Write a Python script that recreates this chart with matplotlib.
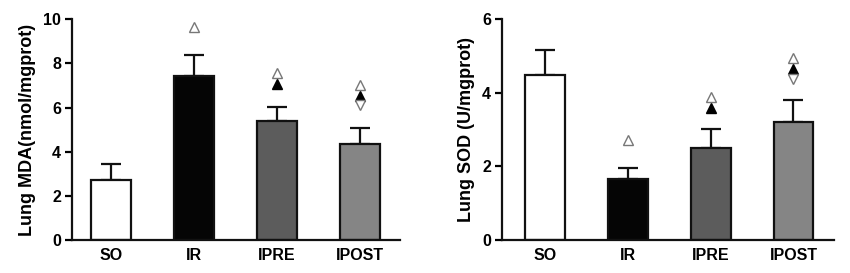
import matplotlib
matplotlib.use("Agg")
import matplotlib.pyplot as plt
import numpy as np

plt.rcParams['font.family'] = ['Liberation Sans', 'DejaVu Sans']

groups = ["SO", "IR", "IPRE", "IPOST"]
colors = ["#ffffff", "#050505", "#5c5c5c", "#858585"]

mda_mean = [2.71, 7.44, 5.41, 4.34]
mda_top = [3.43, 8.38, 6.02, 5.08]
sod_mean = [4.48, 1.66, 2.51, 3.20]
sod_top = [5.16, 1.97, 3.03, 3.80]

# significance marker heights: (group index, value, marker)
mda_marks = [(1, 9.67, "open_up"), (2, 7.56, "open_up"), (2, 7.06, "filled_up"),
             (3, 7.03, "open_up"), (3, 6.53, "filled_up"), (3, 6.10, "open_down")]
sod_marks = [(1, 2.72, "open_up"), (2, 3.88, "open_up"), (2, 3.60, "filled_up"),
             (3, 4.95, "open_up"), (3, 4.66, "filled_up"), (3, 4.39, "open_down")]

fig = plt.figure(figsize=(8.5, 2.73), dpi=100)
ax1 = fig.add_axes([0.0847, 0.121, 0.386, 0.808])
ax2 = fig.add_axes([0.5906, 0.121, 0.3906, 0.808])

def draw(ax, mean, top, marks, ylim, yticks, ylabel, xlim):
    x = np.arange(len(groups))
    err = np.array(top) - np.array(mean)
    ax.bar(x, mean, width=0.48, color=colors, edgecolor="#111111", linewidth=1.6, zorder=2)
    ax.errorbar(x, mean, yerr=[np.zeros(len(x)), err], fmt="none", ecolor="#111111",
                elinewidth=1.6, capsize=7.5, capthick=1.6, zorder=1)
    for gi, val, kind in marks:
        if kind == "open_up":
            ax.plot(gi, val, marker="^", ms=6.5, mfc="white", mec="#777777", mew=1.0, zorder=3)
        elif kind == "filled_up":
            ax.plot(gi, val, marker="^", ms=6.5, mfc="#000000", mec="#000000", mew=1.0, zorder=3)
        else:
            ax.plot(gi, val, marker="v", ms=6.5, mfc="white", mec="#777777", mew=1.0, zorder=3)
    ax.set_ylim(*ylim)
    ax.set_xlim(*xlim)
    ax.set_yticks(yticks)
    ax.set_xticks(x)
    ax.set_xticklabels(groups, fontsize=11.5, fontweight="bold")
    for lab in ax.get_yticklabels():
        lab.set_fontsize(11.5)
        lab.set_fontweight("bold")
    ax.tick_params(axis="x", length=0, pad=6)
    ax.tick_params(axis="y", length=5, width=1.6, direction="out", pad=3)
    ax.set_ylabel(ylabel, fontsize=13, fontweight="bold", labelpad=5)
    for s in ["top", "right"]:
        ax.spines[s].set_visible(False)
    for s in ["left", "bottom"]:
        ax.spines[s].set_linewidth(1.6)
        ax.spines[s].set_color("#111111")

draw(ax1, mda_mean, mda_top, mda_marks, (0, 10), [0, 2, 4, 6, 8, 10],
     "Lung MDA(nmol/mgprot)", (-0.47, 3.48))
draw(ax2, sod_mean, sod_top, sod_marks, (0, 6), [0, 2, 4, 6],
     "Lung SOD (U/mgprot)", (-0.52, 3.49))

fig.savefig("out.png", dpi=100)
